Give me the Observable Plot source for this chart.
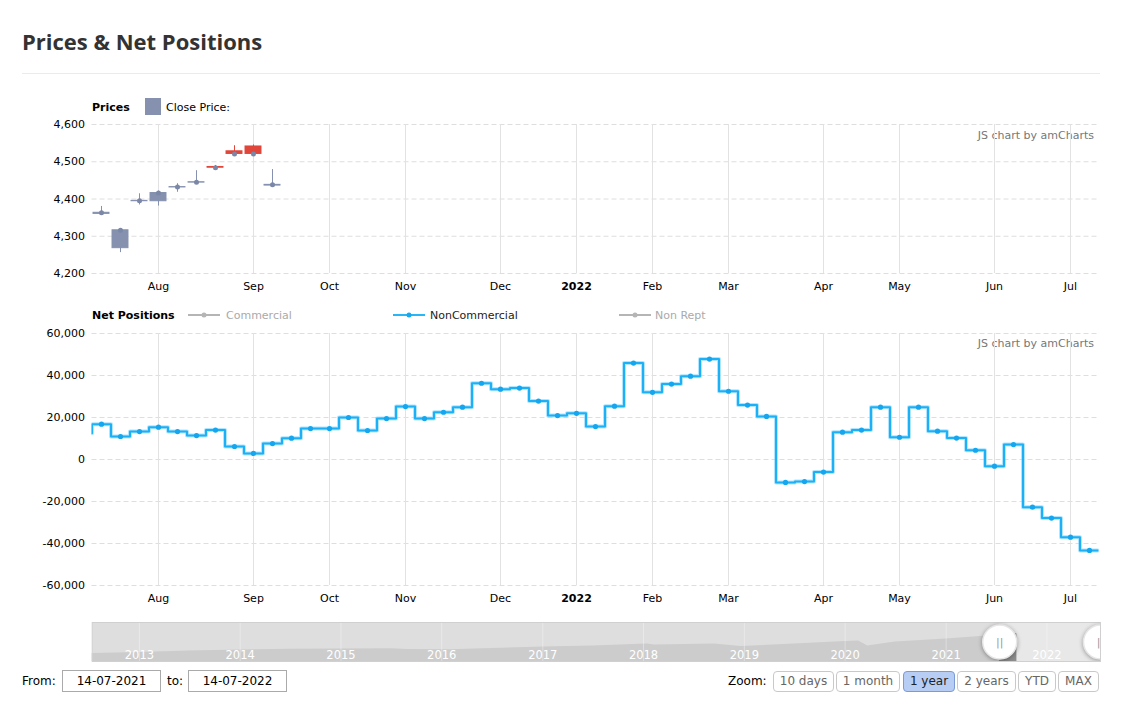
<!DOCTYPE html>
<html><head><meta charset="utf-8">
<script src="https://cdn.jsdelivr.net/npm/d3@7"></script>
<script src="https://cdn.jsdelivr.net/npm/@observablehq/plot@0.6"></script>
<style>
body{margin:0;background:#fff;font-family:Verdana,"DejaVu Sans",sans-serif;color:#000;}
#root{position:relative;width:1125px;height:707px;overflow:hidden;background:#fff;}
.abs{position:absolute;white-space:nowrap;}
.title{left:22px;top:26px;font-family:"Open Sans",sans-serif;font-weight:700;font-size:22px;color:#333;line-height:30px;}
.sep{left:22px;top:73px;width:1078px;height:1px;background:#ebebeb;}
.leg{font-size:11px;line-height:14px;}
.credit{font-size:11px;color:#777;line-height:14px;}
.box{border:1px solid #aaa;height:20px;line-height:20px;text-align:center;font-size:12px;}
.btn{position:absolute;top:671px;height:19px;line-height:19px;border:1px solid #c9c9c9;border-radius:4px;text-align:center;font-size:12px;color:#666;background:#fff;}
.btn.sel{background:#b8cdf4;border-color:#7b9ad6;color:#222;}
svg{overflow:visible;}
</style></head>
<body><div id="root">
<div class="abs title">Prices &amp; Net Positions</div>
<div class="abs sep"></div>

<div class="abs leg" style="left:92px;top:101px;font-weight:bold;">Prices</div>
<div class="abs" style="left:145px;top:98px;width:16px;height:17px;background:#8591ae;"></div>
<div class="abs leg" style="left:166px;top:101px;">Close Price:</div>
<div class="abs credit" style="right:31px;top:129px;">JS chart by amCharts</div>

<div class="abs leg" style="left:92px;top:309px;font-weight:bold;">Net Positions</div>
<svg class="abs" style="left:188px;top:310px" width="33" height="10"><line x1="0" x2="32" y1="5" y2="5" stroke="#b5b5b5" stroke-width="2"/><circle cx="16" cy="5" r="2.5" fill="#b5b5b5"/></svg>
<div class="abs leg" style="left:226px;top:309px;color:#aaa;">Commercial</div>
<svg class="abs" style="left:393px;top:310px" width="33" height="10"><line x1="0" x2="32" y1="5" y2="5" stroke="#29b6f6" stroke-width="2"/><circle cx="16" cy="5" r="2.5" fill="#18a8f0"/></svg>
<div class="abs leg" style="left:430px;top:309px;color:#222;">NonCommercial</div>
<svg class="abs" style="left:619px;top:310px" width="33" height="10"><line x1="0" x2="32" y1="5" y2="5" stroke="#b5b5b5" stroke-width="2"/><circle cx="16" cy="5" r="2.5" fill="#b5b5b5"/></svg>
<div class="abs leg" style="left:655px;top:309px;color:#aaa;">Non Rept</div>
<div class="abs credit" style="right:31px;top:337px;">JS chart by amCharts</div>

<div id="price" class="abs" style="left:0;top:114px;"></div>
<div id="net" class="abs" style="left:0;top:323px;"></div>
<div id="nav" class="abs" style="left:0;top:622px;"></div>

<div class="abs" style="left:22px;top:673px;font-size:12px;line-height:16px;">From:</div>
<div class="abs box" id="fromBox" style="left:62px;top:670px;width:97px;"></div>
<div class="abs" style="left:167px;top:673px;font-size:12px;line-height:16px;">to:</div>
<div class="abs box" id="toBox" style="left:188px;top:670px;width:97px;"></div>
<div class="abs" style="left:728px;top:673px;font-size:12px;line-height:16px;">Zoom:</div>
<div id="btns"></div>
</div>
<script>
// ---------- data ----------
const candleDates = ["2021-07-13","2021-07-20","2021-07-27","2021-08-03","2021-08-10","2021-08-17","2021-08-24","2021-08-31","2021-09-07","2021-09-14"];
const candleOpen  = [4360, 4268, 4394, 4394, 4431, 4444, 4486, 4528, 4541, 4436];
const candleHigh  = [4380, 4320, 4414, 4421, 4441, 4476, 4490, 4543, 4545, 4479];
const candleLow   = [4356, 4256, 4384, 4381, 4418, 4441, 4480, 4519, 4519, 4434];
const candleClose = [4363, 4316, 4395, 4416, 4432, 4445, 4484, 4521, 4521, 4438];

const netDates = ["2021-07-06","2021-07-13","2021-07-20","2021-07-27","2021-08-03","2021-08-10","2021-08-17","2021-08-24","2021-08-31","2021-09-07","2021-09-14","2021-09-21","2021-09-28","2021-10-05","2021-10-12","2021-10-19","2021-10-26","2021-11-02","2021-11-09","2021-11-16","2021-11-23","2021-11-30","2021-12-07","2021-12-14","2021-12-21","2021-12-28","2022-01-04","2022-01-11","2022-01-18","2022-01-25","2022-02-01","2022-02-08","2022-02-15","2022-02-22","2022-03-01","2022-03-08","2022-03-15","2022-03-22","2022-03-29","2022-04-05","2022-04-12","2022-04-19","2022-04-26","2022-05-03","2022-05-10","2022-05-17","2022-05-24","2022-05-31","2022-06-07","2022-06-14","2022-06-21","2022-06-28","2022-07-05","2022-07-12"];
const netNonCommercial = [12500, 16800, 10950, 13300, 15400, 13300, 11400, 14000, 6200, 2900, 7600, 10150, 14750, 14750, 20000, 13800, 19500, 25200, 19500, 22500, 24900, 36300, 33500, 34000, 27800, 20900, 22000, 15700, 25400, 45900, 32000, 35900, 39700, 47800, 32500, 25900, 20500, -10900, -10500, -6000, 13000, 14000, 24900, 10600, 24900, 13500, 10200, 4400, -3200, 7100, -22700, -27900, -37000, -43300];

const priceTicks = [4200, 4300, 4400, 4500, 4600];
const netTicks = [-60000, -40000, -20000, 0, 20000, 40000, 60000];
const monthNames = ["Jan","Feb","Mar","Apr","May","Jun","Jul","Aug","Sep","Oct","Nov","Dec"];
const firstWeek = "2021-07-13";

const navDates  = ["2012-07-14","2013-01-01","2013-07-01","2014-01-01","2014-07-01","2015-01-01","2015-07-01","2015-09-01","2016-02-01","2016-07-01","2017-01-01","2017-07-01","2018-01-15","2018-02-10","2018-09-15","2018-12-20","2019-04-15","2019-07-01","2020-01-01","2020-02-19","2020-03-23","2020-07-01","2021-01-01","2021-07-06"];
const navValues = [1290, 1450, 1690, 1850, 1960, 2010, 2040, 1930, 1900, 2090, 2330, 2490, 2810, 2650, 2810, 2410, 2650, 2810, 3220, 3330, 2490, 3130, 3620, 4260];
const navYears = [2013, 2014, 2015, 2016, 2017, 2018, 2019, 2020, 2021, 2022];
const rangeFrom = "14-07-2021";
const rangeTo = "14-07-2022";
const zoomButtons = ["10 days", "1 month", "1 year", "2 years", "YTD", "MAX"];
const zoomSelected = "1 year";

// ---------- derived ----------
const parse = d3.utcParse("%Y-%m-%d");
const parseDMY = d3.utcParse("%d-%m-%Y");
const WEEK = 7 * 864e5;
const origin = parse(firstWeek);
const weekIndex = (s) => Math.round((parse(s) - origin) / WEEK);

const candles = candleDates.map((d, k) => ({
  i: weekIndex(d), date: parse(d), open: candleOpen[k], high: candleHigh[k], low: candleLow[k], close: candleClose[k]
}));
const net = netDates.map((d, k) => ({i: weekIndex(d), date: parse(d), v: netNonCommercial[k]}));
const lastIndex = d3.max(net, d => d.i);
const xDomain = [-0.5, lastIndex + 0.5];

const monthTicks = [];
const tickLabel = new Map();
net.forEach((d, k) => {
  if (d.i < 0 || k === 0) return;
  if (d.date.getUTCMonth() !== net[k - 1].date.getUTCMonth()) {
    monthTicks.push(d.i);
    const m = d.date.getUTCMonth();
    tickLabel.set(d.i, m === 0 ? String(d.date.getUTCFullYear()) : monthNames[m]);
  }
});
const numFmt = (v) => v.toLocaleString("en-US");

const steps = net.flatMap(d => [{x: d.i - 0.5, y: d.v}, {x: d.i + 0.5, y: d.v}]);

const GRAY = "#8591ae", RED = "#e0463a";
const candleColor = d => d.close >= d.open ? GRAY : RED;

const common = {
  width: 1125, marginLeft: 91.5, marginRight: 26.5, marginTop: 10, marginBottom: 30,
  style: {fontFamily: "Verdana, 'DejaVu Sans', sans-serif", fontSize: "11px", color: "#000", background: "transparent", overflow: "visible"}
};
const xAxisMarks = [
  Plot.gridX(monthTicks, {stroke: "#e2e2e2", strokeOpacity: 1}),
  Plot.axisX(monthTicks, {tickSize: 0, tickPadding: 9, label: null, tickFormat: d => tickLabel.get(d)})
];

const priceChart = Plot.plot({
  ...common, height: 189,
  x: {domain: xDomain, label: null},
  y: {domain: [4200, 4600], label: null},
  marks: [
    Plot.gridY(priceTicks, {stroke: "#dedede", strokeOpacity: 1, strokeDasharray: "5,3"}),
    ...xAxisMarks,
    Plot.axisY(priceTicks, {tickSize: 0, tickPadding: 7, label: null, tickFormat: numFmt}),
    Plot.ruleX(candles, {x: "i", y1: "low", y2: "high", stroke: candleColor, strokeWidth: 1}),
    Plot.rect(candles, {x1: d => d.i - 0.42, x2: d => d.i + 0.42, y1: "open", y2: "close", fill: candleColor, stroke: candleColor, strokeWidth: 1}),
    Plot.dot(candles, {x: "i", y: "close", r: 2.5, fill: "#7b87a6"})
  ]
});

const netChart = Plot.plot({
  ...common, height: 292,
  x: {domain: xDomain, label: null},
  y: {domain: [-60000, 60000], label: null},
  marks: [
    Plot.gridY(netTicks, {stroke: "#dedede", strokeOpacity: 1, strokeDasharray: "5,3"}),
    ...xAxisMarks,
    Plot.axisY(netTicks, {tickSize: 0, tickPadding: 7, label: null, tickFormat: numFmt}),
    Plot.line(steps, {x: "x", y: "y", stroke: "#6fd0fb", strokeWidth: 4, strokeOpacity: 0.55, clip: true}),
    Plot.line(steps, {x: "x", y: "y", stroke: "#1cb0f6", strokeWidth: 2, clip: true}),
    Plot.dot(net.filter(d => d.i >= 0), {x: "i", y: "v", r: 2.6, fill: "#14a6ef"})
  ]
});

// navigator
const fromDate = parseDMY(rangeFrom), toDate = parseDMY(rangeTo);
const navData = navDates.map((d, k) => ({date: parse(d), v: navValues[k]}))
  .concat(candles.map(c => ({date: c.date, v: c.close})));
const navStart = d3.utcYear.offset(toDate, -10);
const yearDates = navYears.map(y => new Date(Date.UTC(y, 0, 1)));
const navChart = Plot.plot({
  width: 1125, height: 39, marginLeft: 91.7, marginRight: 25, marginTop: 0, marginBottom: 0,
  style: {fontFamily: "Verdana, 'DejaVu Sans', sans-serif", fontSize: "11px", background: "transparent", overflow: "visible"},
  x: {type: "utc", domain: [navStart, toDate], axis: null},
  y: {domain: [0, 6300], axis: null},
  marks: [
    Plot.frame({fill: "#dedede", stroke: null}),
    Plot.rect([{a: fromDate, b: toDate}], {x1: "a", x2: "b", fill: "#e8e8e8"}),
    Plot.areaY(navData, {x: "date", y: "v", fill: "#cccccc"}),
    Plot.areaY(navData.filter(d => d.date >= d3.utcDay.offset(fromDate, -1)), {x: "date", y: "v", fill: "#8c8c8c"}),
    Plot.ruleX(yearDates, {stroke: "#ffffff", strokeOpacity: 0.35}),
    Plot.text(yearDates, {x: d => d, text: d => String(d.getUTCFullYear()), frameAnchor: "bottom", lineAnchor: "bottom", dy: -3, fill: "#ffffff", fontSize: 11.5}),
    Plot.frame({stroke: "#d0d0d0", strokeWidth: 1}),
    Plot.dot([fromDate, toDate], {x: d => d, r: 17, fill: "#ffffff", stroke: "#e6e6e6", clip: true}),
    Plot.text([fromDate, toDate], {x: d => d, text: () => "||", fill: "#999", fontSize: 11, clip: true})
  ]
});

document.getElementById("price").appendChild(priceChart);
document.getElementById("net").appendChild(netChart);
document.getElementById("nav").appendChild(navChart);

[priceChart, netChart].forEach(svg => {
  d3.select(svg).selectAll("text").filter(function () { return /^\d{4}$/.test(this.textContent); })
    .attr("font-weight", "bold");
});
d3.select(navChart).selectAll("circle").style("filter", "drop-shadow(0px 1px 2px rgba(0,0,0,0.35))");

document.getElementById("fromBox").textContent = rangeFrom;
document.getElementById("toBox").textContent = rangeTo;
const btnLeft = [773, 836, 903, 957, 1018, 1058];
const btnWidth = [59, 62, 50, 57, 36, 39];
const btns = document.getElementById("btns");
zoomButtons.forEach((label, k) => {
  const b = document.createElement("div");
  b.className = "btn" + (label === zoomSelected ? " sel" : "");
  b.style.left = btnLeft[k] + "px";
  b.style.width = btnWidth[k] + "px";
  b.textContent = label;
  btns.appendChild(b);
});
</script>
</body></html>
